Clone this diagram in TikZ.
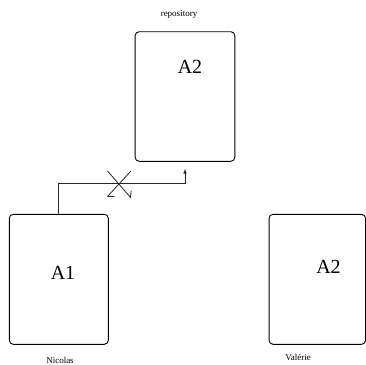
\documentclass[tikz,border=0pt]{standalone}
\usepackage{fontspec}
\setmainfont{Liberation Serif}
\usetikzlibrary{arrows.meta}
\begin{document}
\begin{tikzpicture}[x=1pt,y=-1pt,
  box/.style={draw=black,line width=0.9pt,rounded corners=4pt,rectangle,inner sep=0pt},
  big/.style={font=\fontsize{20}{24}\selectfont,inner sep=0pt},
  small/.style={font=\fontsize{9}{11}\selectfont,inner sep=0pt},
  conn/.style={draw=black!85,line width=0.8pt},
  barb/.style={conn,-{Straight Barb[harpoon,length=4.5pt,width=10pt]}}]
\useasboundingbox (0,0) rectangle (366,364);
\node[box,minimum width=99.7pt,minimum height=129.6pt] (repo) at (185,96.5) {};
\node[box,minimum width=99pt,minimum height=130pt] (a1box) at (58.8,279.3) {};
\node[box,minimum width=96.5pt,minimum height=130pt] (vbox) at (317.3,279.3) {};
\node[big] (repolabel) at (190,66.7) {A2};
\node[big] (a1label) at (63,272.5) {A1};
\node[big] (vlabel) at (328.5,267) {A2};
\node[small] (reponame) at (179,14) {repository};
\node[small] (nicolas) at (60,360) {Nicolas};
\node[small] (valerie) at (298,357.5) {Valérie};
\coordinate (corner) at (185,183.5);
\coordinate (tip) at (185,168.5);
\draw[conn,-{Latex[length=5pt,width=3.5pt]}] (a1box.north) |- (corner) -- (tip);
\coordinate (c1s) at (107.5,171);
\coordinate (c1e) at (131,198);
\coordinate (c2s) at (131,171);
\coordinate (c2e) at (107,197);
\draw[barb] (c1s) -- (c1e);
\draw[barb] (c2s) -- (c2e);
\end{tikzpicture}
\end{document}
